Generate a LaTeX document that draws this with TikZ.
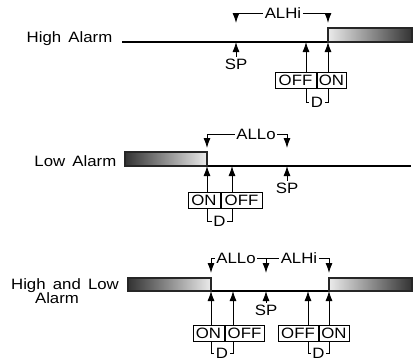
\documentclass[tikz,border=0pt]{standalone}
\usepackage{fontspec}
\setmainfont{Liberation Sans}[FakeStretch=1.12]
\usetikzlibrary{arrows.meta,positioning}
\tikzset{
    axis/.style={line width=1.3pt},
    bar/.style={draw=black!85, line width=1.2pt},
    arr/.style={-{Latex[length=10pt,width=7pt]}, line width=0.9pt},
    brk/.style={line width=0.9pt},
    box/.style={draw, line width=1pt, minimum height=16pt, inner sep=0pt, font=\fontsize{15}{17}\selectfont},
    lbl/.style={inner sep=1.5pt, font=\fontsize{15}{17}\selectfont}
}
\begin{document}
\begin{tikzpicture}[x=1pt, y=-1pt]
    \useasboundingbox (0,0) rectangle (416,360);
    % ---------- high alarm ----------
    \coordinate (h1sp) at (236,42);
    \coordinate (h1off) at (306,42);
    \coordinate (h1on) at (328,42);
    \coordinate (h1t1) at (236,23);
    \coordinate (h1t2) at (328,23);
    \draw[axis] (122,42) -- (h1on);
    \draw[bar, left color=black!8, right color=black!80] (h1on |- 0,28) rectangle (412,42);
    \node[lbl, anchor=base east] (hname) at (114,42) {High\ \,Alarm};
    \node[lbl] (h1splbl) at (236,64) {SP};
    \node[lbl] (alhi1) at (283,13) {ALHi};
    \node[box, minimum width=41pt] (off1) at (295.5,80) {OFF};
    \node[box, minimum width=29pt, right=0pt of off1] (on1) {ON};
    \node[lbl] (d1) at (317,102) {D};
    % edges
    \draw[arr] (h1splbl.north) -- (h1sp);
    \draw[arr] (alhi1.west) -| (h1t1);
    \draw[arr] (alhi1.east) -| (h1t2);
    \draw[arr] (off1.north -| h1off) -- (h1off);
    \draw[arr] (on1.north -| h1on) -- (h1on);
    \draw[brk] (off1.south -| h1off) |- (d1.west);
    \draw[brk] (on1.south -| h1on) |- (d1.east);
    % ---------- low alarm ----------
    \coordinate (l2on) at (207,166);
    \coordinate (l2off) at (232,166);
    \coordinate (l2sp) at (287,166);
    \coordinate (l2t1) at (207,148);
    \coordinate (l2t2) at (287,148);
    \draw[axis] (l2on) -- (411,166);
    \draw[bar, left color=black!80, right color=black!8] (125,152) rectangle (l2on);
    \node[lbl, anchor=base east] (lname) at (118,166) {Low\ \,Alarm};
    \node[lbl] (l2splbl) at (287,188) {SP};
    \node[lbl] (allo2) at (256,134) {ALLo};
    \node[box, minimum width=32pt] (on2) at (204,200) {ON};
    \node[box, minimum width=41pt, right=0pt of on2] (off2) {OFF};
    \node[lbl] (d2) at (219.5,221) {D};
    % edges
    \draw[arr] (l2splbl.north) -- (l2sp);
    \draw[arr] (allo2.west) -| (l2t1);
    \draw[arr] (allo2.east) -| (l2t2);
    \draw[arr] (on2.north -| l2on) -- (l2on);
    \draw[arr] (off2.north -| l2off) -- (l2off);
    \draw[brk] (on2.south -| l2on) |- (d2.west);
    \draw[brk] (off2.south -| l2off) |- (d2.east);
    % ---------- high and low alarm ----------
    \coordinate (b3lon) at (211,291);
    \coordinate (b3loff) at (233,291);
    \coordinate (b3sp) at (266,291);
    \coordinate (b3hoff) at (308,291);
    \coordinate (b3hon) at (329,291);
    \coordinate (b3t1) at (211,273);
    \coordinate (b3t2) at (266,273);
    \coordinate (b3t3) at (329,273);
    \draw[axis] (b3lon) -- (b3hon);
    \draw[bar, left color=black!80, right color=black!8] (128,278) rectangle (b3lon);
    \draw[bar, left color=black!8, right color=black!80] (b3hon |- 0,278) rectangle (412,291);
    \node[lbl, anchor=base] (bname1) at (65,289) {High\ \,and\ \,Low};
    \node[lbl, anchor=base] (bname2) at (57,303) {Alarm};
    \node[lbl] (b3splbl) at (266,310) {SP};
    \node[lbl] (allo3) at (236,258) {ALLo};
    \node[lbl] (alhi3) at (299,258) {ALHi};
    \node[box, minimum width=31pt] (on3) at (208.5,333) {ON};
    \node[box, minimum width=39pt, right=0pt of on3] (off3) {OFF};
    \node[box, minimum width=40pt] (off4) at (298,333) {OFF};
    \node[box, minimum width=30pt, right=0pt of off4] (on4) {ON};
    \node[lbl] (d3) at (222,353) {D};
    \node[lbl] (d4) at (318.5,353) {D};
    % edges
    \draw[arr] (b3splbl.north) -- (b3sp);
    \draw[arr] (allo3.west) -| (b3t1);
    \draw[brk] (allo3.east) -- (alhi3.west);
    \draw[arr] (b3t2 |- allo3) -- (b3t2);
    \draw[arr] (alhi3.east) -| (b3t3);
    \draw[arr] (on3.north -| b3lon) -- (b3lon);
    \draw[arr] (off3.north -| b3loff) -- (b3loff);
    \draw[arr] (off4.north -| b3hoff) -- (b3hoff);
    \draw[arr] (on4.north -| b3hon) -- (b3hon);
    \draw[brk] (on3.south -| b3lon) |- (d3.west);
    \draw[brk] (off3.south -| b3loff) |- (d3.east);
    \draw[brk] (off4.south -| b3hoff) |- (d4.west);
    \draw[brk] (on4.south -| b3hon) |- (d4.east);
\end{tikzpicture}
\end{document}
